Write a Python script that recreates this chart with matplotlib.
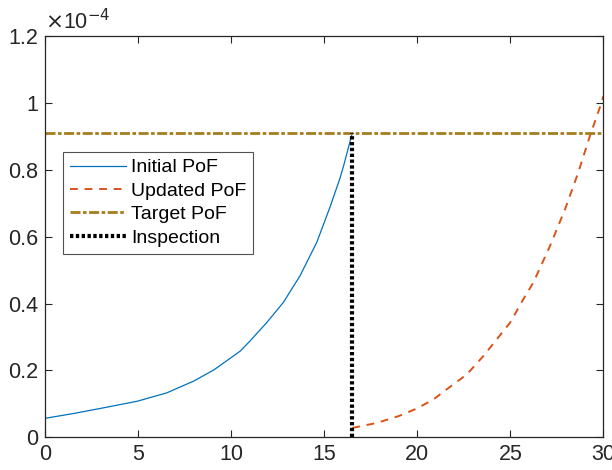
import numpy as np
import matplotlib.pyplot as plt
from matplotlib.ticker import FuncFormatter

plt.rcParams['font.family'] = ['Liberation Sans', 'DejaVu Sans']

# PoF values in units of 1e-4
t_init = [0, 1.5, 3.3, 4.95, 6.53, 7.97, 9.04, 9.22, 10.48, 11.0, 11.9,
          12.79, 13.69, 14.59, 15.3, 15.84, 16.04, 16.5]
pof_init = [0.057, 0.071, 0.090, 0.108, 0.133, 0.168, 0.201, 0.208, 0.258,
            0.288, 0.343, 0.403, 0.483, 0.583, 0.688, 0.775, 0.813, 0.910]

t_upd = [16.5, 17.82, 18.98, 19.97, 20.86, 21.76, 22.66, 23.55, 24.27,
         24.99, 25.7, 26.24, 27.14, 27.95, 28.66, 29.29, 29.92, 30]
pof_upd = [0.028, 0.043, 0.063, 0.086, 0.113, 0.151, 0.188, 0.243, 0.293,
           0.343, 0.413, 0.463, 0.573, 0.683, 0.793, 0.903, 1.003, 1.02]

target = 0.91
t_insp = 16.5

fig = plt.figure(figsize=(6.12, 4.70), dpi=100)
ax = fig.add_axes([0.0743, 0.0696, 0.9115, 0.8538])

ax.plot(t_init, pof_init, color='#0072BD', lw=0.9, label='Initial PoF')
ax.plot(t_upd, pof_upd, color='#D95319', lw=1.4, dashes=(4, 3.5), label='Updated PoF')
ax.axhline(target, color='#A67C1E', lw=2, dashes=(3.6, 0.9, 1.3, 0.9), label='Target PoF')
ax.plot([t_insp, t_insp], [0, target], color='black', lw=3, dashes=(0.8, 0.6),
        label='Inspection')

ax.set(xlim=(0, 30), ylim=(0, 1.2))
ax.set_xticks(np.arange(0, 31, 5))
ax.set_yticks(np.arange(0, 1.21, 0.2))
ax.yaxis.set_major_formatter(FuncFormatter(lambda v, p: f'{v:g}'))
ax.tick_params(direction='in', top=True, right=True, labelsize=15.5,
               length=5, width=0.8, colors='#262626', pad=5)
for s in ax.spines.values():
    s.set_color('#262626')
    s.set_linewidth(0.9)

ax.text(0.0, 1.005, r'$\times$10$^{-4}$', transform=ax.transAxes,
        fontsize=15.5, color='#262626', ha='left', va='bottom')

leg = ax.legend(loc='upper left', bbox_to_anchor=(0.031, 0.711), fontsize=14,
                frameon=True, fancybox=False, edgecolor='#262626',
                handlelength=2.9, handletextpad=0.25, labelspacing=0.3,
                borderpad=0.35, borderaxespad=0)
leg.get_frame().set_linewidth(0.8)

fig.savefig('out.png', dpi=100)
